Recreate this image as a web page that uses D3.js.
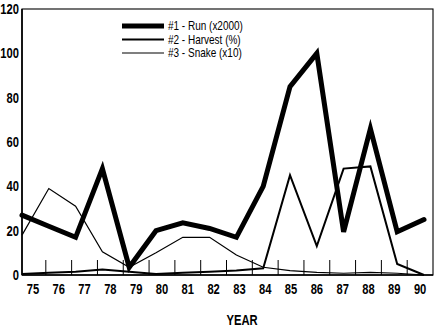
<!DOCTYPE html>
<html>
<head>
<meta charset="utf-8">
<script src="https://cdn.jsdelivr.net/npm/d3@7"></script>
<style>
  html, body { margin: 0; padding: 0; background: #fff; }
  svg { display: block; }
  text { font-family: "Liberation Sans", Arial, sans-serif; fill: #000; }
</style>
</head>
<body>
<svg id="chart" width="437" height="328"></svg>
<script>
const years = [75, 76, 77, 78, 79, 80, 81, 82, 83, 84, 85, 86, 87, 88, 89, 90];
const run     = [27, 22, 17, 48, 3.5, 20, 23.5, 21, 17, 40, 85, 100, 19.5, 66, 19.5, 25];
const harvest = [0.5, 1, 1.5, 2.5, 1.5, 0.5, 1, 1.5, 2, 3, 45, 13, 48, 49, 5, 0];
const snake   = [18, 39, 31, 10.5, 3.5, 10, 17, 17, 9, 3.5, 2, 1.2, 0.8, 1.2, 0.8, 0];
const yTicks  = [0, 20, 40, 60, 80, 100, 120];
const seriesNames = ["#1 - Run (x2000)", "#2 - Harvest (%)", "#3 - Snake (x10)"];
const xTitle = "YEAR";

const svg = d3.select("#chart");
const L = 22, R = 433, T = 9, B = 275;
const SX = 0.8; // condensed look

const y = d3.scaleLinear().domain([0, 120]).range([B, T]);
const xData = d3.scaleLinear().domain([75, 90]).range([L, 424]);
const xBand = d3.scaleBand().domain(years).range([20, R]);

function ctext(g, x, yy, str, size, weight, anchor) {
  return g.append("text")
    .attr("transform", `translate(${x},${yy}) scale(${SX},1)`)
    .attr("text-anchor", anchor).attr("font-size", size).attr("font-weight", weight)
    .text(str);
}

// frame
svg.append("rect").attr("x", L).attr("y", T).attr("width", R - L).attr("height", B - T)
  .attr("fill", "none").attr("stroke", "#000").attr("stroke-width", 1.1);
svg.append("line").attr("x1", L).attr("x2", L).attr("y1", T).attr("y2", B)
  .attr("stroke", "#000").attr("stroke-width", 1.6);
svg.append("line").attr("x1", L).attr("x2", R).attr("y1", B).attr("y2", B)
  .attr("stroke", "#000").attr("stroke-width", 1.6);

// y labels
const gy = svg.append("g");
yTicks.forEach(d => ctext(gy, 19, y(d) + 5, d, 14, "bold", "end"));

// x tick marks at band boundaries
svg.append("g").selectAll("line").data(years.slice(1)).join("line")
  .attr("x1", d => xBand(d)).attr("x2", d => xBand(d))
  .attr("y1", B).attr("y2", B - 15)
  .attr("stroke", "#000").attr("stroke-width", 1);

// x labels
const gx = svg.append("g");
years.forEach(d => ctext(gx, xBand(d) + xBand.bandwidth() / 2, 294, d, 14, "bold", "middle"));

ctext(svg, 242, 325, xTitle, 14, "bold", "middle");

// lines
const line = d3.line().x(d => xData(d[0])).y(d => y(d[1]));
const widths = [5, 2, 1.2];
[run, harvest, snake].forEach((vals, i) => {
  svg.append("path").datum(years.map((yr, j) => [yr, vals[j]]))
    .attr("d", line).attr("fill", "none").attr("stroke", "#000")
    .attr("stroke-width", widths[i]).attr("stroke-linejoin", "miter")
    .attr("stroke-linecap", i === 0 ? "round" : "butt");
});

// legend
const lg = svg.append("g");
seriesNames.forEach((name, i) => {
  const yy = 26 + i * 13.5;
  lg.append("line").attr("x1", 122).attr("x2", 164).attr("y1", yy).attr("y2", yy)
    .attr("stroke", "#000").attr("stroke-width", widths[i]);
  ctext(lg, 168, yy + 4, name, 12.5, "normal", "start");
});
</script>
</body>
</html>
